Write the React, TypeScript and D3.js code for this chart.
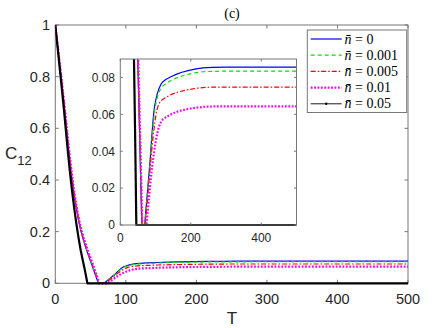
import React from "react";
import * as d3 from "d3";

// ---------- data ----------
const labels = ["0", "0.001", "0.005", "0.01", "0.05"];

const tBlue = [0, 3, 6, 9, 12, 15, 18, 21, 24, 27, 30, 33, 36, 40, 44, 48, 52, 56, 61, 69, 73, 77, 81, 85, 89, 93, 97, 101, 105, 110, 115, 120, 130, 145, 160, 175, 195, 215, 235, 260, 300, 500];
const cBlue = [1, 0.925, 0.85, 0.775, 0.7, 0.62, 0.54, 0.465, 0.395, 0.335, 0.285, 0.242, 0.205, 0.165, 0.132, 0.1, 0.07, 0.039, 0, 0, 0.009, 0.018, 0.027, 0.036, 0.047, 0.057, 0.064, 0.068, 0.0712, 0.074, 0.0762, 0.0775, 0.079, 0.0805, 0.0818, 0.0828, 0.0838, 0.0846, 0.0852, 0.0855, 0.0856, 0.0856];

const tGreen = [0, 3, 6, 9, 12, 15, 18, 21, 24, 27, 30, 33, 36, 40, 44, 48, 52, 56, 61.3, 69.5, 73.5, 77.5, 81.5, 85.5, 89.5, 93.5, 97.5, 101.5, 105.5, 110, 115, 120, 130, 145, 160, 175, 195, 215, 235, 260, 300, 500];
const cGreen = [1, 0.926, 0.852, 0.778, 0.703, 0.624, 0.544, 0.47, 0.4, 0.34, 0.289, 0.246, 0.208, 0.168, 0.135, 0.103, 0.073, 0.042, 0, 0, 0.009, 0.018, 0.027, 0.036, 0.046, 0.055, 0.062, 0.0665, 0.0695, 0.0722, 0.074, 0.0752, 0.0768, 0.0785, 0.0798, 0.0808, 0.0818, 0.0826, 0.0831, 0.0833, 0.0834, 0.0834];

const tRed = [0, 3, 6, 9, 12, 15, 18, 21, 24, 27, 30, 33, 36, 40, 44, 48, 52, 56, 61.8, 71, 75, 79, 83, 87, 91, 95, 99, 103, 108, 113, 118, 130, 145, 165, 190, 215, 240, 270, 500];
const cRed = [1, 0.928, 0.856, 0.783, 0.708, 0.63, 0.55, 0.476, 0.406, 0.345, 0.294, 0.25, 0.212, 0.172, 0.139, 0.107, 0.077, 0.046, 0, 0, 0.009, 0.018, 0.027, 0.036, 0.044, 0.051, 0.057, 0.0615, 0.065, 0.0668, 0.0678, 0.0692, 0.0708, 0.0722, 0.0733, 0.0741, 0.0746, 0.0748, 0.0748];

const tMagenta = [0, 3, 6, 9, 12, 15, 18, 21, 24, 27, 30, 33, 36, 40, 44, 48, 52, 56, 62.5, 74, 78, 82, 86, 90, 94, 98, 102, 107, 112, 118, 130, 145, 165, 190, 215, 240, 270, 500];
const cMagenta = [1, 0.93, 0.86, 0.79, 0.715, 0.638, 0.558, 0.484, 0.414, 0.352, 0.3, 0.256, 0.218, 0.178, 0.145, 0.113, 0.083, 0.052, 0, 0, 0.008, 0.016, 0.024, 0.031, 0.037, 0.0425, 0.047, 0.0515, 0.0545, 0.0568, 0.0585, 0.0601, 0.0617, 0.0628, 0.0636, 0.0641, 0.0643, 0.0643];

const tBlack = [0, 3, 6, 9, 12, 15, 18, 21, 24, 27, 30, 33, 36, 39, 42, 45.5, 500];
const cBlack = [1, 0.92, 0.84, 0.76, 0.68, 0.592, 0.505, 0.425, 0.352, 0.287, 0.228, 0.175, 0.128, 0.088, 0.05, 0, 0];

const mainXTicks = [0, 100, 200, 300, 400, 500];
const mainYTicks = [0, 0.2, 0.4, 0.6, 0.8, 1];
const insetXTicks = [0, 200, 400];
const insetYTicks = [0, 0.02, 0.04, 0.06, 0.08];

type Series = { t: number[]; c: number[]; color: string; width: number; dash?: string; label: string };
const series: Series[] = [
  { t: tBlue, c: cBlue, color: "#0000ff", width: 1.2, label: labels[0] },
  { t: tGreen, c: cGreen, color: "#00e000", width: 1.2, dash: "4,3", label: labels[1] },
  { t: tRed, c: cRed, color: "#ff0000", width: 1.2, dash: "5,2,1.5,2", label: labels[2] },
  { t: tMagenta, c: cMagenta, color: "#ff00ff", width: 2.2, dash: "1.8,1.6", label: labels[3] },
  { t: tBlack, c: cBlack, color: "#000000", width: 2.2, label: labels[4] },
];

const AX = "#777777";
const TXT = "#262626";
const SANS = "Liberation Sans, Arial, Helvetica, sans-serif";
const SERIF = "Liberation Serif, DejaVu Serif, serif";

export default function App() {
  // main axes
  const m = { l: 55.3, r: 408, t: 25, b: 283.3 };
  const x = d3.scaleLinear().domain([0, 500]).range([m.l, m.r]);
  const y = d3.scaleLinear().domain([0, 1]).range([m.b, m.t]);
  // inset axes
  const n = { l: 120.3, r: 296.5, t: 59, b: 225 };
  const xi = d3.scaleLinear().domain([0, 500]).range([n.l, n.r]);
  const yi = d3.scaleLinear().domain([0, 0.09]).range([n.b, n.t]);

  const mkLine = (sx: any, sy: any) =>
    d3.line<[number, number]>().x((d) => sx(d[0])).y((d) => sy(d[1])).curve(d3.curveLinear);
  const mainLine = mkLine(x, y);
  const insetLine = mkLine(xi, yi);
  const pts = (s: Series) => s.t.map((t, i) => [t, s.c[i]] as [number, number]);

  const tick = 3.5;
  const legY0 = 39;
  const legDy = 16.2;

  return (
    <svg width={436} height={328} style={{ position: "absolute", left: 0, top: 0, background: "#fff" }}>
      <defs>
        <clipPath id="mainClip">
          <rect x={m.l} y={m.t - 2} width={m.r - m.l} height={m.b - m.t + 4} />
        </clipPath>
        <clipPath id="insetClip">
          <rect x={n.l} y={n.t} width={n.r - n.l} height={n.b - n.t + 2} />
        </clipPath>
      </defs>
      <rect x={0} y={0} width={436} height={328} fill="#fff" />

      {/* title */}
      <text x={232} y={18} textAnchor="middle" fontFamily={SERIF} fontSize={14} fill="#000">(c)</text>

      {/* main box & ticks */}
      <rect x={m.l} y={m.t} width={m.r - m.l} height={m.b - m.t} fill="none" stroke={AX} strokeWidth={1} />
      {mainXTicks.map((v) => (
        <g key={"mx" + v}>
          <line x1={x(v)} x2={x(v)} y1={m.b} y2={m.b - tick} stroke={AX} />
          <line x1={x(v)} x2={x(v)} y1={m.t} y2={m.t + tick} stroke={AX} />
          <text x={x(v)} y={304} textAnchor="middle" fontFamily={SANS} fontSize={14.5} fill={TXT}>{d3.format("~g")(v)}</text>
        </g>
      ))}
      {mainYTicks.map((v) => (
        <g key={"my" + v}>
          <line x1={m.l} x2={m.l + tick} y1={y(v)} y2={y(v)} stroke={AX} />
          <line x1={m.r} x2={m.r - tick} y1={y(v)} y2={y(v)} stroke={AX} />
          <text x={50} y={y(v) + 5} textAnchor="end" fontFamily={SANS} fontSize={14.5} fill={TXT}>{d3.format("~g")(v)}</text>
        </g>
      ))}
      <text x={232} y={324} textAnchor="middle" fontFamily={SANS} fontSize={17} fill={TXT}>T</text>
      <text x={5} y={159} fontFamily={SANS} fontSize={17} fill={TXT}>
        C<tspan dy={6} fontSize={13}>12</tspan>
      </text>

      {/* main curves */}
      <g clipPath="url(#mainClip)">
        {series.map((s, i) => (
          <path key={"m" + i} d={mainLine(pts(s)) || ""} fill="none" stroke={s.color} strokeWidth={s.width}
            strokeDasharray={s.dash} strokeLinejoin="round" />
        ))}
      </g>

      {/* inset */}
      <rect x={n.l} y={n.t} width={n.r - n.l} height={n.b - n.t} fill="#fff" stroke="none" />
      <g clipPath="url(#insetClip)">
        {series.map((s, i) => (
          <path key={"i" + i} d={insetLine(pts(s)) || ""} fill="none" stroke={s.color} strokeWidth={s.width}
            strokeDasharray={s.dash} strokeLinejoin="round" />
        ))}
      </g>
      <rect x={n.l} y={n.t} width={n.r - n.l} height={n.b - n.t} fill="none" stroke={AX} strokeWidth={1} />
      {insetXTicks.map((v) => (
        <g key={"ix" + v}>
          <line x1={xi(v)} x2={xi(v)} y1={n.b} y2={n.b - 2.5} stroke={AX} />
          <line x1={xi(v)} x2={xi(v)} y1={n.t} y2={n.t + 2.5} stroke={AX} />
          <text x={xi(v)} y={242} textAnchor="middle" fontFamily={SANS} fontSize={12} fill={TXT}>{d3.format("~g")(v)}</text>
        </g>
      ))}
      {insetYTicks.map((v) => (
        <g key={"iy" + v}>
          <line x1={n.l} x2={n.l + 2.5} y1={yi(v)} y2={yi(v)} stroke={AX} />
          <line x1={n.r} x2={n.r - 2.5} y1={yi(v)} y2={yi(v)} stroke={AX} />
          <text x={115} y={yi(v) + 4.3} textAnchor="end" fontFamily={SANS} fontSize={12} fill={TXT}>{d3.format("~g")(v)}</text>
        </g>
      ))}

      {/* legend */}
      <rect x={307.3} y={30} width={99.4} height={82.5} fill="#fff" stroke={AX} strokeWidth={1} />
      {series.map((s, i) => {
        const ly = legY0 + i * legDy;
        const isBlack = i === 4;
        return (
          <g key={"l" + i}>
            <line x1={310.7} x2={341.7} y1={ly} y2={ly} stroke={s.color} strokeWidth={isBlack ? 0.9 : s.width}
              strokeDasharray={s.dash} />
            {isBlack && <circle cx={326.2} cy={ly} r={1.2} fill="#000" />}
            <text x={344.5} y={ly + 4.6} fontFamily={SERIF} fontSize={14} fill="#000">
              <tspan fontStyle="italic">{"n\u0304"}</tspan>
              <tspan>{" = " + s.label}</tspan>
            </text>
          </g>
        );
      })}
    </svg>
  );
}
